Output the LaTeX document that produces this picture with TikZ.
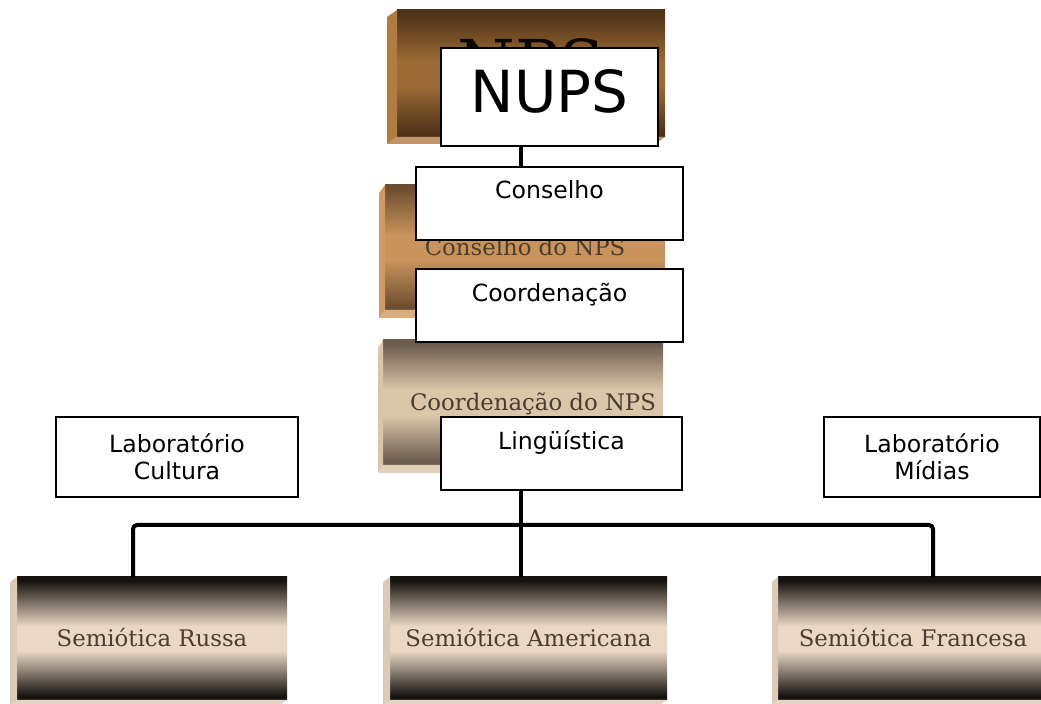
\documentclass[tikz,border=0pt]{standalone}
\usepackage{fontspec}
\setmainfont{DejaVu Sans}
\newfontfamily\slabfont{DejaVu Serif}
\usetikzlibrary{positioning, calc}

\definecolor{nupsdark}{HTML}{4E3218}
\definecolor{nupsmid}{HTML}{9C6A34}
\definecolor{nupsside}{HTML}{B07C44}
\definecolor{condark}{HTML}{6E4E30}
\definecolor{conmid}{HTML}{C8935C}
\definecolor{conside}{HTML}{CF9A62}
\definecolor{corddark}{HTML}{6C5C4E}
\definecolor{cordmid}{HTML}{DCC6AA}
\definecolor{cordside}{HTML}{DCC4AA}
\definecolor{semdark}{HTML}{15120F}
\definecolor{semmid}{HTML}{EAD8C4}
\definecolor{semside}{HTML}{DCCAB8}
\definecolor{slabink}{HTML}{4A3C30}

% dark rim at top and bottom, light band in the middle
\newcommand{\boxshade}[3]{%
  \pgfdeclareverticalshading{#1}{100bp}{color(0bp)=(#2); color(25bp)=(#2); color(26.5bp)=(#2);
    color(45bp)=(#3); color(55bp)=(#3); color(73.5bp)=(#2); color(75bp)=(#2); color(100bp)=(#2)}}
\boxshade{nupsshade}{nupsdark}{nupsmid}
\boxshade{conshade}{condark}{conmid}
\boxshade{cordshade}{corddark}{cordmid}
\boxshade{semshade}{semdark}{semmid}

% left and bottom faces of a raised box
\newcommand{\sideface}[4]{%
  \fill[#2] ($(#1.north west)+(-#3,#4)$) -- (#1.north west) -- (#1.south west) -- ($(#1.south west)+(-#3,#4)$) -- cycle;
  \fill[#2!80!white] ($(#1.south west)+(-#3,#4)$) -- (#1.south west) -- (#1.south east) -- ($(#1.south east)+(-#3,#4)$) -- cycle;
}

\tikzset{
  backbox/.style={rectangle, outer sep=0pt, inner sep=0pt, shading=#1,
    font=\slabfont\fontsize{11.4}{13}\selectfont, text=slabink, text height=8.5pt, text depth=0pt},
  whitebox/.style={draw, fill=white, line width=1.3pt, align=center, font=\fontsize{11.8}{13.5}\selectfont,
    minimum height=36.5pt},
  link/.style={line width=2pt, line join=round, rounded corners=2pt}
}

\begin{document}
\begin{tikzpicture}[x=0.5pt, y=-0.5pt]
\useasboundingbox (0,0) rectangle (1041,704);

% raised boxes behind
\node [backbox=nupsshade, minimum width=134pt, minimum height=63.5pt, text=black!85!nupsdark,
       font=\slabfont\fontsize{33}{36}\selectfont, text height=24pt, text depth=9.5pt] (nupsback) at (531, 73.5) {NPS};
\sideface{nupsback}{nupsside}{10}{7}
\node [backbox=conshade, minimum width=140pt, minimum height=62.5pt] (conback) at (525, 247.5) {Conselho do NPS};
\sideface{conback}{conside}{6}{8}
\node [backbox=cordshade, minimum width=140pt, minimum height=62.5pt] (cordback) at (523, 402.5) {\hspace*{10pt}Coordenação do NPS};
\sideface{cordback}{cordside}{5}{8}

\node [backbox=semshade, minimum width=135pt, minimum height=61.5pt] (russa) at (152, 638.5) {Semiótica Russa};
\sideface{russa}{semside}{7}{5}
\node [backbox=semshade, minimum width=138.5pt, minimum height=61.5pt] (americana) at (528.5, 638.5) {Semiótica Americana};
\sideface{americana}{semside}{7}{5}
\node [backbox=semshade, minimum width=135pt, minimum height=61.5pt] (francesa) at (913, 638.5) {Semiótica Francesa};
\sideface{francesa}{semside}{6}{5}

% white boxes on top
\node [whitebox, minimum width=108.5pt, minimum height=49pt, font=\fontsize{29}{32}\selectfont,
       text height=21.5pt, text depth=5.5pt] (nups) at (549.5, 97) {NUPS};
\node [whitebox, minimum width=133.5pt] (conselho) at (549.5, 203.5) {Conselho\\~};
\node [whitebox, minimum width=133.5pt] (coord) at (549.5, 305.5) {Coordenação\\~};
\node [whitebox, minimum width=120.5pt] (ling) at (561.5, 453.5) {Lingüística\\~};
\node [whitebox, minimum width=121pt, minimum height=40pt] (labcult) at (177, 457) {Laboratório\\Cultura};
\node [whitebox, minimum width=108pt, minimum height=40pt] (labmid) at (932, 457) {Laboratório\\Mídias};

% connectors
\coordinate (spine) at (521, 0);
\coordinate (barL) at (133, 525);
\coordinate (bar) at (521, 525);
\coordinate (barR) at (933, 525);

\draw [link] (nups.south -| spine) -- (conselho.north -| spine);
\draw [link] (ling.south -| bar) -- (americana.north -| bar);
\draw [link] (russa.north -| barL) -- (barL) -- (barR) -- (francesa.north -| barR);

\end{tikzpicture}
\end{document}
